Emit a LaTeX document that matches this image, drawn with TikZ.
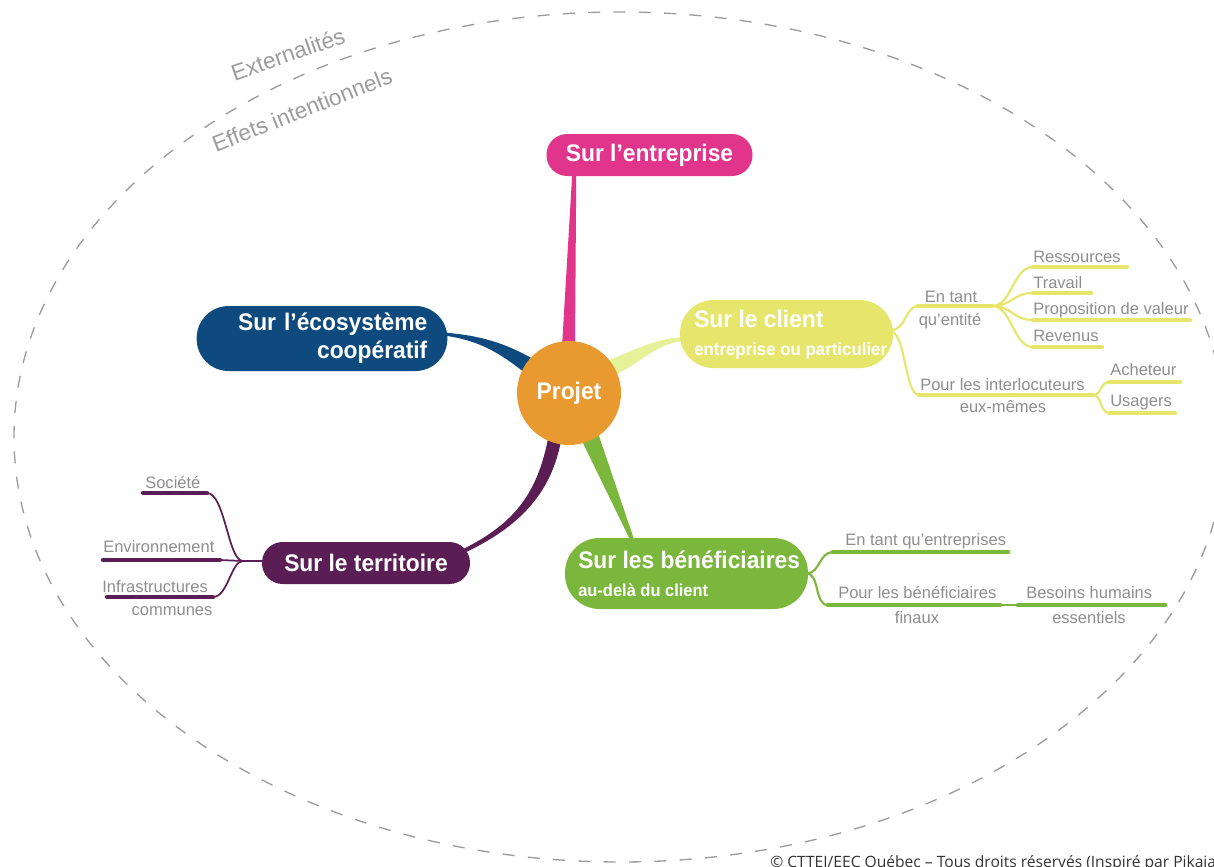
\documentclass[tikz,border=0pt]{standalone}
\usepackage{fontspec}
\setmainfont{Liberation Sans}
\newfontfamily\titlefont[FakeStretch=0.95]{Liberation Sans}
\newfontfamily\copyfont{Open Sans}
\usetikzlibrary{calc}
\pgfdeclarelayer{bg}
\pgfsetlayers{bg,main}
\definecolor{cMag}{HTML}{E0358A}
\definecolor{cBlue}{HTML}{0F4A7E}
\definecolor{cYel}{HTML}{E6E66C}
\definecolor{cYelLine}{HTML}{E6E66A}
\definecolor{cLime}{HTML}{E6F29A}
\definecolor{cGreen}{HTML}{7AB73C}
\definecolor{cPurp}{HTML}{5A1E55}
\definecolor{cOrange}{HTML}{E8992F}
\definecolor{cGray}{HTML}{8E8E8E}
\definecolor{cDash}{HTML}{9C9C9C}
\definecolor{cCopy}{HTML}{333333}
\tikzset{
  box/.style={rectangle, text=white, inner ysep=0pt,
    font=\titlefont\bfseries\fontsize{18}{21}\selectfont},
  ttxt/.style={text=white, inner sep=0pt,
    font=\titlefont\bfseries\fontsize{18}{21}\selectfont},
  gtxt/.style={text=cGray, inner sep=0pt, font=\fontsize{12.4}{14}\selectfont},
  lbl/.style={text=cDash, inner sep=0pt, font=\fontsize{17}{19}\selectfont},
  ulY/.style={draw=cYelLine, line width=3.2pt, line cap=round},
  ulG/.style={draw=cGreen, line width=3.6pt, line cap=round},
  ulP/.style={draw=cPurp, line width=3.2pt, line cap=round},
  brY/.style={draw=cYelLine, line width=1.6pt},
  brG/.style={draw=cGreen, line width=1.6pt},
  brP/.style={draw=cPurp, line width=1.3pt},
}
\begin{document}
\begin{tikzpicture}[x=0.75pt, y=-0.75pt]
\useasboundingbox (0,0) rectangle (1214,867);

% central and main nodes
\node[circle, fill=cOrange, minimum size=78pt, inner sep=0pt, text=white,
      font=\titlefont\bfseries\fontsize{18}{21}\selectfont] (proj) at (569,393) {Projet};
\node[box, fill=cMag, minimum width=154.5pt, minimum height=31.5pt, rounded corners=15.5pt] (ent) at (649.5,155) {Sur l’entreprise};
\node[box, fill=cBlue, text width=158pt, inner xsep=15pt, minimum height=48.75pt, align=right, rounded corners=24pt] (eco) at (322,338.5) {Sur l’écosystème\\coopératif};
\node[box, fill=cYel, minimum width=159.75pt, minimum height=51pt, rounded corners=25pt] (cli) at (786.5,334) {};
\node[ttxt, anchor=west, align=left] (cliT) at (694,335) {Sur le client\\\fontsize{13.3}{17.25}\selectfont entreprise ou particulier};
\node[box, fill=cGreen, minimum width=182.25pt, minimum height=53.25pt, rounded corners=26pt] (ben) at (686.5,573.5) {};
\node[ttxt, anchor=west, align=left] (benT) at (578,574) {Sur les bénéficiaires\\\fontsize{13}{17.25}\selectfont au-delà du client};
\node[box, fill=cPurp, minimum width=156pt, minimum height=31.5pt, rounded corners=15.5pt] (ter) at (366,563) {Sur le territoire};

% outer labels
\node[lbl, rotate=19] (ext) at (288,54) {Externalités};
\node[lbl, rotate=21.5] (eff) at (302,110) {Effets intentionnels};

\begin{pgfonlayer}{bg}
  \fill[white] (0,0) rectangle (1214,867);
  \draw[cDash, line width=1pt, dash pattern=on 9pt off 10pt] (620,437) ellipse [x radius=454.5pt, y radius=318.75pt];
  % tapered connectors
  \fill[cMag] ($(proj.north)+(-7,6)$) -- ($(ent.south west)+(26,-2)$) -- ($(ent.south west)+(30,-2)$) -- ($(proj.north)+(6,6)$) -- cycle;
  \fill[cBlue] ($(eco.east)+(-4,-6)$) .. controls ($(eco.east)+(33,-3)$) and ($(proj.center)+(-64,-50)$) .. ($(proj.center)+(-36,-34)$)
     -- ($(proj.center)+(-44,-20)$) .. controls ($(proj.center)+(-69,-40)$) and ($(eco.east)+(31,1.5)$) .. ($(eco.east)+(-4,-3)$) -- cycle;
  \fill[cLime] ($(proj.center)+(38,-32)$) .. controls ($(proj.center)+(70,-45)$) and ($(cli.west)+(-25,5)$) .. ($(cli.west)+(4,3)$)
     -- ($(cli.west)+(4,7)$) .. controls ($(cli.west)+(-25,10)$) and ($(proj.center)+(75,-32)$) .. ($(proj.center)+(46,-18)$) -- cycle;
  \fill[cGreen] ($(proj.center)+(12,46)$) -- ($(ben.north)+(-56,3)$) -- ($(ben.north)+(-52,3)$) -- ($(proj.center)+(29,40)$) -- cycle;
  \fill[cPurp] ($(proj.center)+(-21,46)$) .. controls ($(proj.center)+(-32,100)$) and ($(ter.east)+(45,-40)$) .. ($(ter.east)+(-7,-14)$)
     -- ($(ter.east)+(-4,-11)$) .. controls ($(ter.east)+(50,-37)$) and ($(proj.center)+(-18,100)$) .. ($(proj.center)+(-8,48)$) -- cycle;
\end{pgfonlayer}

% ---- client branch (yellow)
\coordinate (etL) at (918,306); \coordinate (etR) at (992,306);
\coordinate (piL) at (919,395); \coordinate (piR) at (1093,395);
\coordinate (resL) at (1033,267); \coordinate (resR) at (1127,267);
\coordinate (traL) at (1033,293); \coordinate (traR) at (1091,293);
\coordinate (proL) at (1033,320); \coordinate (proR) at (1190,320);
\coordinate (revL) at (1033,347); \coordinate (revR) at (1102,347);
\coordinate (achL) at (1109,382); \coordinate (achR) at (1180,382);
\coordinate (usaL) at (1109,413); \coordinate (usaR) at (1175,413);
\node[gtxt, anchor=base] (et1) at (951,302) {En tant};
\node[gtxt, anchor=base] (et2) at (950,325) {qu’entité};
\node[gtxt, anchor=base west] (pi1) at (920,390) {Pour les interlocuteurs};
\node[gtxt, anchor=base] (pi2) at (1003,412) {eux-mêmes};
\node[gtxt, anchor=base west] (res) at (1033,262) {Ressources};
\node[gtxt, anchor=base west] (tra) at (1033,288) {Travail};
\node[gtxt, anchor=base west] (pro) at (1033,314) {Proposition de valeur};
\node[gtxt, anchor=base west] (rev) at (1033,341) {Revenus};
\node[gtxt, anchor=base west] (ach) at (1110,375) {Acheteur};
\node[gtxt, anchor=base west] (usa) at (1110,406) {Usagers};
\draw[brY] ($(cli.east)+(-2,-4)$) .. controls +(15,0) and +(-13,0) .. (etL);
\draw[brY] ($(cli.east)+(-2,-2)$) .. controls +(14,0) and +(-14,0) .. (piL);
\foreach \t in {res,tra,pro,rev} { \draw[brY] (etR) .. controls +(20,0) and +(-20,0) .. (\t L); }
\foreach \t in {ach,usa} { \draw[brY] (piR) .. controls +(9,0) and +(-9,0) .. (\t L); }
\foreach \t in {et,pi,res,tra,pro,rev,ach,usa} { \draw[ulY] (\t L) -- (\t R); }

% ---- beneficiaries branch (green)
\coordinate (epL) at (833,552); \coordinate (epR) at (1008,552);
\coordinate (pbL) at (828,605); \coordinate (pbR) at (1000,605);
\coordinate (bhL) at (1018,605); \coordinate (bhR) at (1165,605);
\node[gtxt, anchor=base west] (ep) at (845,545) {En tant qu’entreprises};
\node[gtxt, anchor=base west] (pb1) at (838,598) {Pour les bénéficiaires};
\node[gtxt, anchor=base] (pb2) at (917,623) {finaux};
\node[gtxt, anchor=base west] (bh1) at (1026,598) {Besoins humains};
\node[gtxt, anchor=base] (bh2) at (1089,623) {essentiels};
\draw[brG] ($(ben.east)+(-2,0)$) .. controls +(14,0) and +(-14,0) .. (epL);
\draw[brG] ($(ben.east)+(-2,0)$) .. controls +(14,0) and +(-14,0) .. (pbL);
\draw[brG] (pbR) -- (bhL);
\foreach \t in {ep,pb,bh} { \draw[ulG] (\t L) -- (\t R); }

% ---- territory branch (purple)
\coordinate (fork) at (243,561);
\coordinate (socL) at (143,493); \coordinate (socR) at (207,493);
\coordinate (envL) at (103,560); \coordinate (envR) at (220,560);
\coordinate (infL) at (107,597); \coordinate (infR) at (213,597);
\node[gtxt, anchor=base west] (soc) at (145,488) {Société};
\node[gtxt, anchor=base west] (env) at (103,552) {Environnement};
\node[gtxt, anchor=base west] (inf1) at (102,592) {Infrastructures};
\node[gtxt, anchor=base] (inf2) at (172,615) {communes};
\draw[brP] ($(ter.west)+(2,-2)$) -- (fork);
\draw[brP] (socR) .. controls +(18,0) and +(-15,0) .. (fork);
\draw[brP] (envR) -- (fork);
\draw[brP] (infR) .. controls +(15,0) and +(-12,0) .. (fork);
\foreach \t in {soc,env,inf} { \draw[ulP] (\t L) -- (\t R); }

% copyright
\node[anchor=base west, inner sep=0pt, text=cCopy, font=\copyfont\fontsize{11.7}{13}\selectfont] (copy) at (770,867) {© CTTEI/EEC Québec – Tous droits réservés (Inspiré par Pikaia)};
\end{tikzpicture}
\end{document}
